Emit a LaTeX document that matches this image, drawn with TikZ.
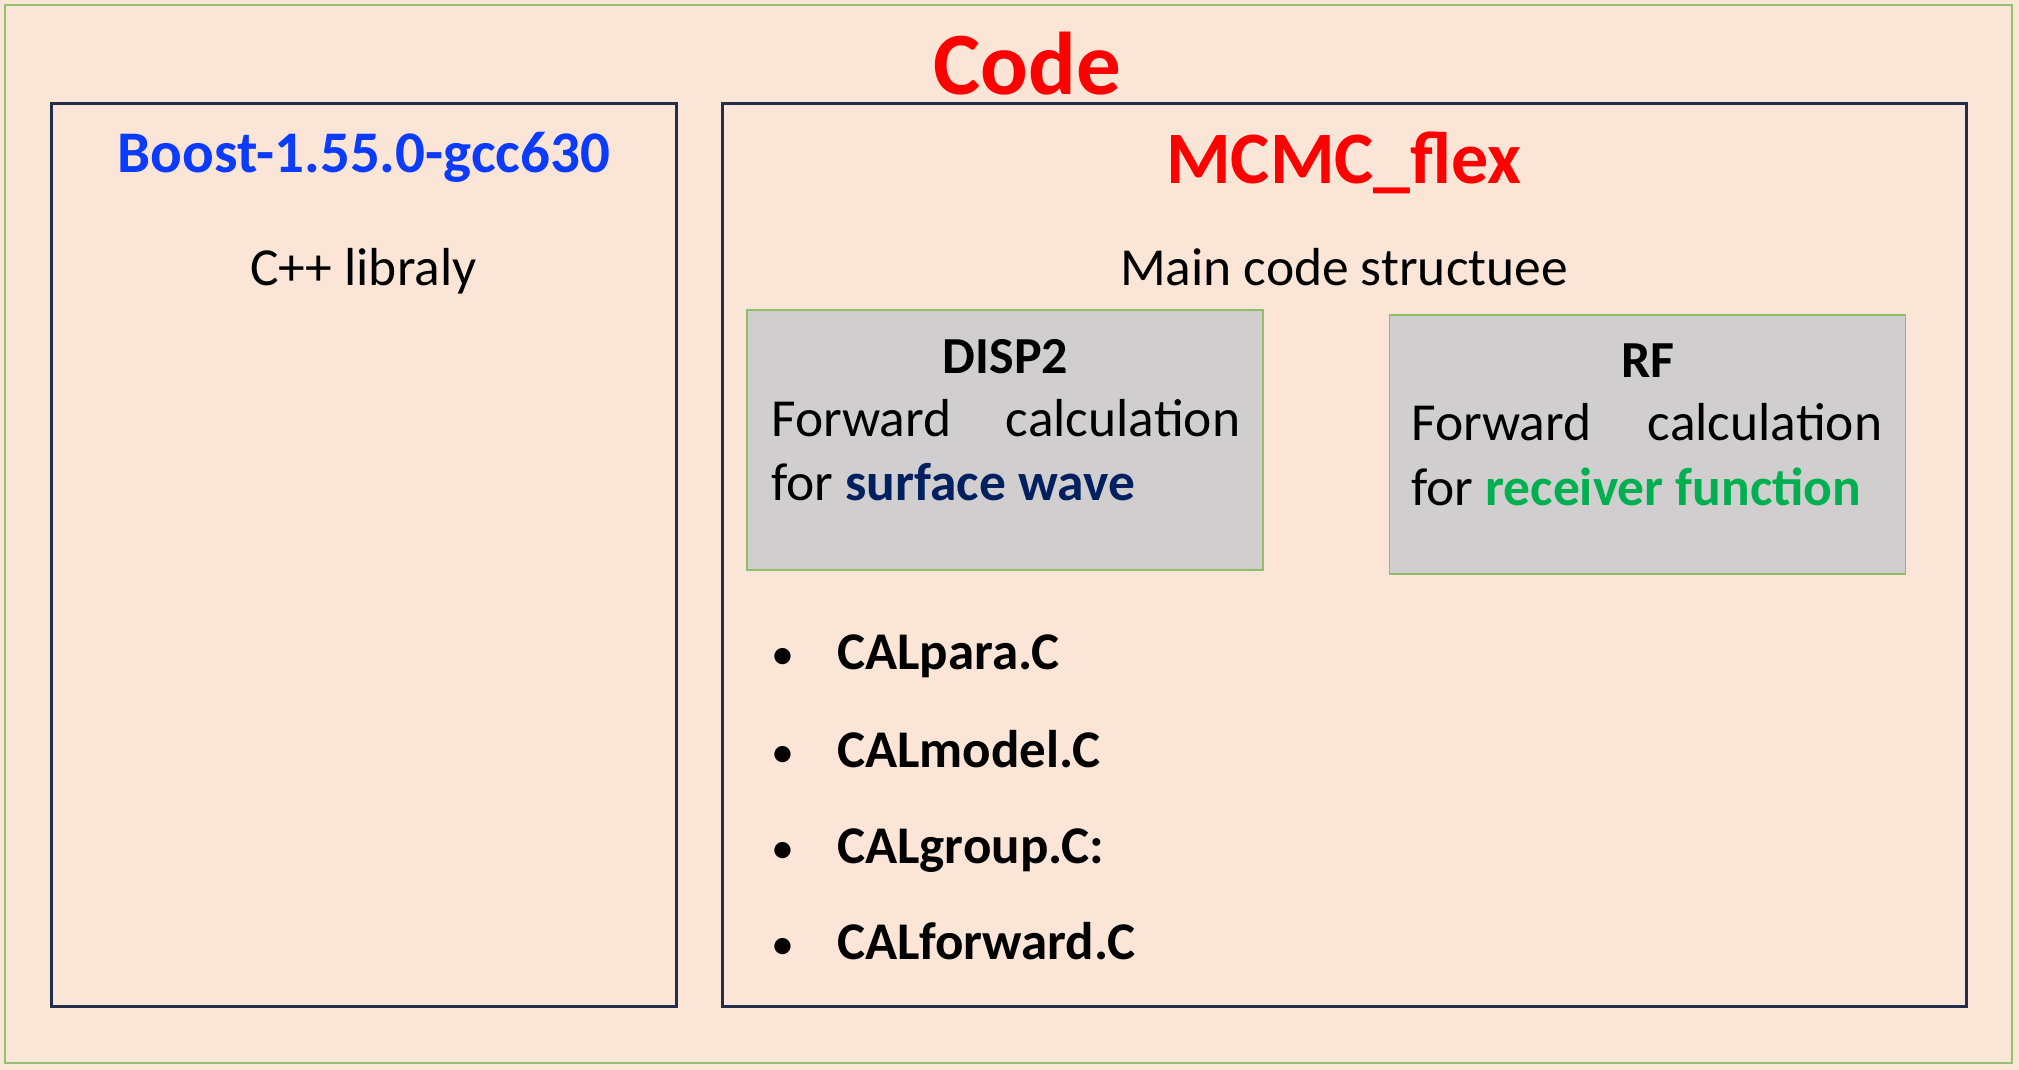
\documentclass[tikz,border=0pt]{standalone}
\usepackage{fontspec}
\setmainfont{Carlito}
\definecolor{peach}{HTML}{FBE5D6}
\definecolor{outergreen}{HTML}{94C074}
\definecolor{boxgreen}{HTML}{8DBF67}
\definecolor{navy}{HTML}{222E4A}
\definecolor{boxgray}{HTML}{D0CECE}
\definecolor{swblue}{HTML}{002060}
\definecolor{rfgreen}{HTML}{00B050}
\definecolor{titlered}{HTML}{FF0000}
\definecolor{boostblue}{HTML}{0A3BFF}
\newcommand{\fsz}[1]{\fontsize{#1}{#1}\selectfont}
\newcommand{\itembullet}{\makebox[69pt][l]{\hspace*{3pt}\fsz{46}\mdseries •}}
\tikzset{
  panel/.style={draw=navy, line width=3pt, minimum width=#1, minimum height=902pt, inner sep=0pt},
  graybox/.style={draw=boxgreen, line width=1.5pt, fill=boxgray, minimum width=516pt, minimum height=#1, inner sep=0pt},
  txt/.style={inner sep=0pt, anchor=base},
  bodytxt/.style={inner sep=0pt, anchor=base west, font=\fsz{53.5}},
  itemtxt/.style={inner sep=0pt, anchor=base west, font=\fsz{53}\bfseries}
}
\begin{document}
\begin{tikzpicture}[x=1pt,y=-1pt]
\useasboundingbox (0,0) rectangle (2019,1070);
\fill[peach] (0,0) rectangle (2019,1070);
\node[draw=outergreen, line width=2pt, minimum width=2007pt, minimum height=1058pt, inner sep=0pt] (outer) at (1008.5,534) {};
\node[panel=625pt] (boost) at (363.5,555) {};
\node[panel=1244pt] (mcmc) at (1344,555) {};
\node[graybox=260pt] (disp) at (1005,440) {};
\node[graybox=259pt] (rf) at (1647.5,444.5) {};

\node[txt, font=\fsz{89}\bfseries, text=titlered] (code) at (1027,95) {Code};
\node[txt, font=\fsz{59}\bfseries, text=boostblue] (boosttitle) at (364,172) {Boost-1.55.0-gcc630};
\node[txt, font=\fsz{53.5}] (cpp) at (363.5,285) {C++ libraly};
\node[txt, font=\fsz{74}\bfseries, text=titlered] (mcmctitle) at (1344,183) {MCMC\_flex};
\node[txt, font=\fsz{53.5}] (maincode) at (1344,285) {Main code structuee};

\node[txt, font=\fsz{52}\bfseries] (disptitle) at (1005.5,373) {DISP2};
\node[bodytxt, text width=469pt, align=left] (disp1) at (771,436) {Forward\hfill calculation};
\node[bodytxt] (disp2) at (771,500) {for \textbf{\textcolor{swblue}{surface wave}}};

\node[txt, font=\fsz{52}\bfseries] (rftitle) at (1648,377) {RF};
\node[bodytxt, text width=471pt, align=left] (rf1) at (1411,440) {Forward\hfill calculation};
\node[bodytxt] (rf2) at (1411,505) {for \textbf{\textcolor{rfgreen}{receiver function}}};

\node[itemtxt] (i1) at (768,669) {\itembullet CALpara.C};
\node[itemtxt] (i2) at (768,767) {\itembullet CALmodel.C};
\node[itemtxt] (i3) at (768,863) {\itembullet CALgroup.C:};
\node[itemtxt] (i4) at (768,959) {\itembullet CALforward.C};
\end{tikzpicture}
\end{document}
